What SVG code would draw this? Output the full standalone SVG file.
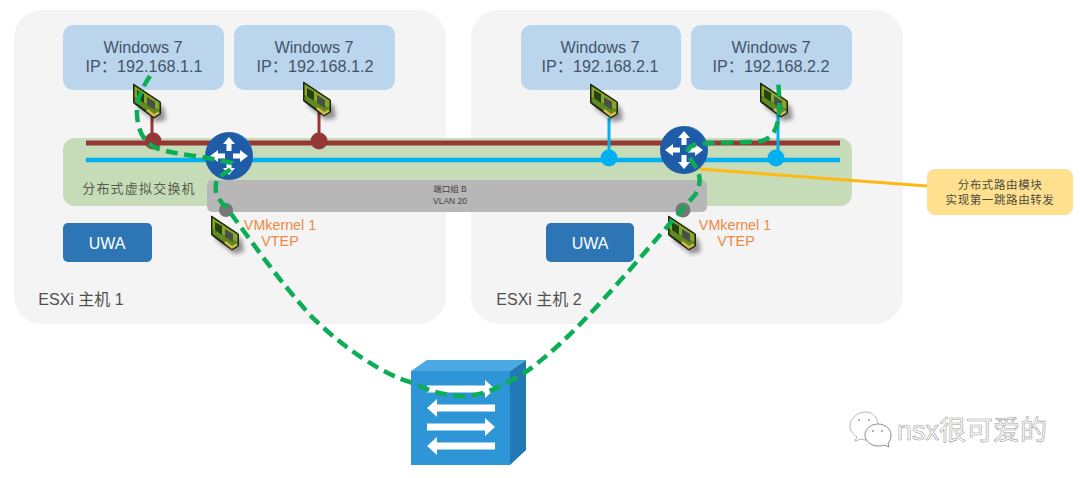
<svg xmlns="http://www.w3.org/2000/svg" xmlns:xlink="http://www.w3.org/1999/xlink" width="1080" height="478" viewBox="0 0 1080 478">
<style>
text{font-family:"Liberation Sans","Noto Sans CJK SC",sans-serif;text-anchor:middle}
.host{fill:#f4f4f4}
.vm{fill:#bad5ec}
.vmt{font-size:16.200px;fill:#44546a}
.uwa{fill:#2e75b6}
.uwat{font-size:16px;fill:#fff}
.lab{font-size:16px;fill:#505050}
.vk{font-size:14.300px;fill:#ed8a45}
.brown{stroke:#953735;stroke-width:5;fill:none}
.blue{stroke:#00b0f0;stroke-width:4.500;fill:none}
.stemb{stroke:#953735;stroke-width:3}
.stemc{stroke:#00b0f0;stroke-width:3}
.dash{fill:none;stroke:#0bad55;stroke-width:4.500;stroke-dasharray:12 6.500}
.ar{fill:#fff}
.wm{font-size:27px;fill:#fff;stroke:#a0a0a0;stroke-width:.6;text-anchor:start}
</style>
<defs>
<filter id="sh" x="-40%" y="-40%" width="180%" height="180%"><feGaussianBlur stdDeviation="2"/></filter>
<g id="nic">
<path d="M-9 -9 L17 8 L19 20 L9 22 L-9 8Z" fill="#000" opacity=".4" filter="url(#sh)"/>
<path d="M-13.500 -16 L13.500 2 L13.500 14 L7 18 L0 13 L-13.500 3Z" fill="#1d2410" stroke="#1d2410" stroke-width="1"/>
<path d="M-12.500 -14 L12.500 2.500 L12.500 10 L0 5 L-12.500 -3Z" fill="#86a82a"/>
<path d="M-12.500 -3 L12.500 10 L12.500 13 L7 16.500 L0 11 L-12.500 2Z" fill="#5f8a1e"/>
<path d="M-10 -10 L-3 -6 L-3 3 L-10 -2Z" fill="#26400f"/>
<path d="M0 -3 L8 2 L8 10 L0 5Z" fill="#4a4f48"/>
<path d="M0 10 L7 15.500 L12 12.500" stroke="#d6b94e" stroke-width="2.500" fill="none"/>
</g>
<g id="rarrow"><path d="M-34 -3.500H24V-9L34 0L24 9V3.500H-34Z" class="ar"/></g>
<g id="router-icon">
<circle r="24" fill="#1f5ca8"/>
<path d="M-1 -24A24 24 0 0 1 24 -1A26 26 0 0 0 -1 -24Z" fill="#3b7dc4"/>
<path d="M0 -19L6 -12H2.500V-5H-2.500V-12H-6Z M0 19L6 12H2.500V5H-2.500V12H-6Z M-19 0L-11 -6V-2.500H-4V2.500H-11V6Z M19 0L11 -6V-2.500H4V2.500H11V6Z" class="ar"/>
</g>
</defs>
<rect width="1080" height="478" fill="#fff"/>
<g id="host-1"><rect class="host" x="14" y="10" width="432" height="314" rx="28"/><text class="lab" x="81" y="305">ESXi 主机 1</text></g>
<g id="host-2"><rect class="host" x="471" y="10" width="432" height="314" rx="28"/><text class="lab" x="539" y="305">ESXi 主机 2</text></g>
<g id="vm-1"><rect class="vm" x="63" y="25" width="161" height="65" rx="10"/><text class="vmt" x="143" y="53">Windows 7</text><text class="vmt" x="144" y="72">IP：192.168.1.1</text></g>
<g id="vm-2"><rect class="vm" x="234" y="25" width="161" height="65" rx="10"/><text class="vmt" x="314" y="53">Windows 7</text><text class="vmt" x="315" y="72">IP：192.168.1.2</text></g>
<g id="vm-3"><rect class="vm" x="521" y="25" width="160" height="65" rx="10"/><text class="vmt" x="600" y="53">Windows 7</text><text class="vmt" x="600" y="72">IP：192.168.2.1</text></g>
<g id="vm-4"><rect class="vm" x="691" y="25" width="161" height="65" rx="10"/><text class="vmt" x="771" y="53">Windows 7</text><text class="vmt" x="771" y="72">IP：192.168.2.2</text></g>
<g id="dvs"><rect x="63" y="138" width="789" height="68" rx="12" fill="#c6dcb8"/><text x="139" y="193" font-size="13" letter-spacing="1.200" fill="#5a5a50">分布式虚拟交换机</text></g>
<g id="uwa-1"><rect class="uwa" x="63" y="223" width="89" height="39" rx="5"/><text class="uwat" x="107" y="249">UWA</text></g>
<g id="uwa-2"><rect class="uwa" x="546" y="223" width="88" height="39" rx="5"/><text class="uwat" x="590" y="249">UWA</text></g>
<g id="connectors">
<path class="brown" d="M86 143H840"/>
<path class="blue" d="M86 160H840"/>
<path class="stemb" d="M152 115V141M319 108V141"/>
<path class="stemc" d="M609 118V158M778 112V158"/>
<path d="M699 169L927 186" stroke="#fdb913" stroke-width="3" fill="none"/>
</g>
<g id="portgroup"><rect x="207" y="180" width="500" height="32" rx="5" fill="#b7b7b7"/><text x="450" y="192" font-size="8.500" fill="#404040">端口组 B</text><text x="450" y="204" font-size="8.500" fill="#404040">VLAN 20</text></g>
<g id="ports">
<circle cx="153" cy="141" r="8.500" fill="#953735"/><circle cx="319" cy="141" r="8.500" fill="#953735"/>
<circle cx="609" cy="158" r="8.500" fill="#00b0f0"/><circle cx="776" cy="158" r="8.500" fill="#00b0f0"/>
<circle cx="226" cy="210" r="7" fill="#777"/><circle cx="683" cy="210" r="7.500" fill="#777"/>
</g>
<g id="nic-1"><use href="#nic" x="147" y="100"/></g>
<g id="nic-2"><use href="#nic" x="317" y="98"/></g>
<g id="nic-3"><use href="#nic" x="604" y="100"/></g>
<g id="nic-4"><use href="#nic" x="774" y="99"/></g>
<g id="nic-5"><use href="#nic" x="225" y="232"/></g>
<g id="nic-6"><use href="#nic" x="682" y="232"/></g>
<g id="router-1"><use href="#router-icon" x="229" y="156"/></g>
<g id="router-2"><use href="#router-icon" x="684" y="150"/></g>
<g id="vtep-1"><text class="vk" x="280" y="230">VMkernel 1</text><text class="vk" x="280" y="246">VTEP</text></g>
<g id="vtep-2"><text class="vk" x="735" y="230">VMkernel 1</text><text class="vk" x="736" y="246">VTEP</text></g>
<g id="switch">
<path d="M411 371L427 360H526L510 371Z" fill="#4aa9e4"/>
<path d="M510 371L526 360V450L510 465Z" fill="#2279b4"/>
<rect x="411" y="371" width="99" height="94" fill="#2e95d6"/>
<use href="#rarrow" x="461" y="389"/>
<use href="#rarrow" transform="translate(461 408) scale(-1 1)"/>
<use href="#rarrow" x="461" y="427"/>
<use href="#rarrow" transform="translate(461 446) scale(-1 1)"/>
</g>
<g id="path-overlay">
<path class="dash" d="M150 76C142 88 136 100 137 115C138 130 143 142 156 148C175 155 205 156 232 163C236 170 222 172 217 180C213 190 218 200 226 207C240 225 270 270 310 315C345 350 385 375 410 382C430 391 445 396 463 396C480 396 495 390 517 377C530 370 535 365 545 357C590 320 650 245 695 195C701 185 702 175 693 163C688 155 683 148 697 144C715 142 745 143 762 141C780 135 781 115 778 80"/>
</g>
<g id="callout"><rect x="927" y="169" width="146" height="46" rx="8" fill="#ffe08f"/><text x="1000" y="189" font-size="11.500" letter-spacing=".6" fill="#4d4d40">分布式路由模块</text><text x="1000" y="204" font-size="11.500" letter-spacing=".6" fill="#4d4d40">实现第一跳路由转发</text></g>
<g id="watermark">
<path d="M866 412C858 412 850 418 850 426C850 431 853 434 857 437L855 441L861 439C864 440 866 440 869 440L878 425C878 418 873 412 866 412Z" fill="#fff" stroke="#b8b8b8" stroke-width="1"/>
<path d="M878 424C871 424 865 429 865 435C865 441 871 446 878 446C880 446 882 446 884 445L889 447L888 443C890 441 891 438 891 435C891 429 885 424 878 424Z" fill="#fff" stroke="#8c8c8c" stroke-width="1"/>
<circle cx="859" cy="420" r="1" fill="#999"/><circle cx="869" cy="420" r="1" fill="#999"/><circle cx="873" cy="431" r="1" fill="#999"/><circle cx="882" cy="431" r="1" fill="#999"/>
<text class="wm" x="897" y="440">nsx很可爱的</text>
</g>
</svg>
